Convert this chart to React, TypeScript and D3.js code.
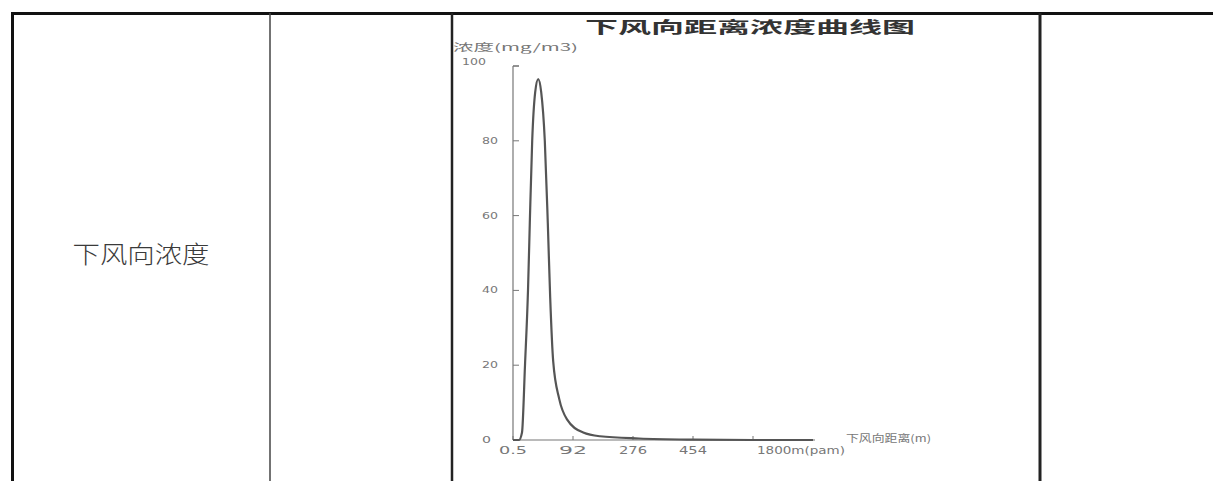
import React from "react";
import * as d3 from "d3";

// Data (x = position along the evenly-spaced categorical distance axis)
const axisPos = [0, 0.1, 0.15, 0.2, 0.25, 0.28, 0.32, 0.37, 0.42, 0.47, 0.53, 0.58, 0.62, 0.67, 0.77, 0.9, 1.17, 1.45, 2.1, 3, 4, 5];
const concentration = [0, 0, 2, 20, 40, 58, 80, 93, 96.5, 93, 80, 58, 38, 21, 11, 5.5, 2, 1, 0.4, 0.1, 0, 0];
const xTickLabels = ["0.5", "92", "276", "454", "1800m(pam)"];
const yTickValues = [0, 20, 40, 60, 80, 100];

const title = "下风向距离浓度曲线图";
const yLabel = "浓度(mg/m3)";
const xLabel = "下风向距离(m)";
const rowLabel = "下风向浓度";

export default function App() {
  const x = d3.scaleLinear().domain([0, 5]).range([513, 813]);
  const y = d3.scaleLinear().domain([0, 100]).range([440, 66]);
  const line = d3
    .line<number>()
    .x((_, i) => x(axisPos[i]))
    .y((d) => y(d))
    .curve(d3.curveMonotoneX);
  const path = line(concentration) || "";
  const gray = "#777";
  return (
    <svg
      width={1213}
      height={481}
      style={{ position: "fixed", left: 0, top: 0, background: "#fff" }}
    >
      <rect x={0} y={0} width={1213} height={481} fill="#fff" />
      {/* table lines */}
      <line x1={11} x2={1213} y1={13.5} y2={13.5} stroke="#111" strokeWidth={3} />
      <line x1={12.5} x2={12.5} y1={12} y2={481} stroke="#111" strokeWidth={3} />
      <line x1={270} x2={270} y1={13} y2={481} stroke="#444" strokeWidth={1.5} />
      <line x1={452} x2={452} y1={13} y2={481} stroke="#222" strokeWidth={2.5} />
      <line x1={1040} x2={1040} y1={13} y2={481} stroke="#222" strokeWidth={3} />
      <text
        x={141}
        y={263}
        textAnchor="middle"
        fontSize={24}
        fontWeight={300}
        fontFamily="'Noto Sans CJK SC', sans-serif"
        fill="#3a3a3a"
        textLength={137}
        lengthAdjust="spacingAndGlyphs"
      >
        {rowLabel}
      </text>
      {/* chart title */}
      <text
        x={585}
        y={33}
        fontSize={16}
        fontWeight="bold"
        fontFamily="'Noto Sans CJK SC', sans-serif"
        fill="#333"
        textLength={330}
        lengthAdjust="spacingAndGlyphs"
      >
        {title}
      </text>
      <text
        x={453}
        y={51}
        fontSize={10}
        fontFamily="'Noto Sans CJK SC', sans-serif"
        fill={gray}
        textLength={125}
        lengthAdjust="spacingAndGlyphs"
      >
        {yLabel}
      </text>
      {/* y axis */}
      <line x1={513} x2={513} y1={y(100)} y2={y(0)} stroke={gray} strokeWidth={1.2} />
      <line x1={513} x2={519} y1={y(100)} y2={y(100)} stroke={gray} strokeWidth={1.2} />
      {yTickValues.map((v) => (
        <g key={v}>
          <line x1={513} x2={519} y1={y(v)} y2={y(v)} stroke={gray} strokeWidth={1} />
          <text
            x={v === 100 ? 462 : 482}
            y={y(v) + (v === 100 ? -1 : 3)}
            fontSize={9}
            fontFamily="'DejaVu Sans', sans-serif"
            fill={gray}
            textLength={v === 100 ? 24 : v === 0 ? 9 : 16}
            lengthAdjust="spacingAndGlyphs"
          >
            {v}
          </text>
        </g>
      ))}
      {/* x axis */}
      <line x1={513} x2={815} y1={y(0)} y2={y(0)} stroke={gray} strokeWidth={1.2} />
      {xTickLabels.map((lab, i) => (
        <g key={lab}>
          <line x1={x(i)} x2={x(i)} y1={y(0)} y2={y(0) - 4} stroke={gray} strokeWidth={1} />
          <text
            x={i === 4 ? 757 : x(i)}
            y={454}
            textAnchor={i === 4 ? "start" : "middle"}
            fontSize={10}
            fontFamily="'DejaVu Sans', sans-serif"
            fill={gray}
            textLength={i === 4 ? 88 : 28}
            lengthAdjust="spacingAndGlyphs"
          >
            {lab}
          </text>
        </g>
      ))}
      <text
        x={846}
        y={442}
        fontSize={10}
        fontFamily="'Noto Sans CJK SC', sans-serif"
        fill={gray}
        textLength={85}
        lengthAdjust="spacingAndGlyphs"
      >
        {xLabel}
      </text>
      {/* curve */}
      <path d={path} fill="none" stroke="#555" strokeWidth={2.2} />
    </svg>
  );
}
